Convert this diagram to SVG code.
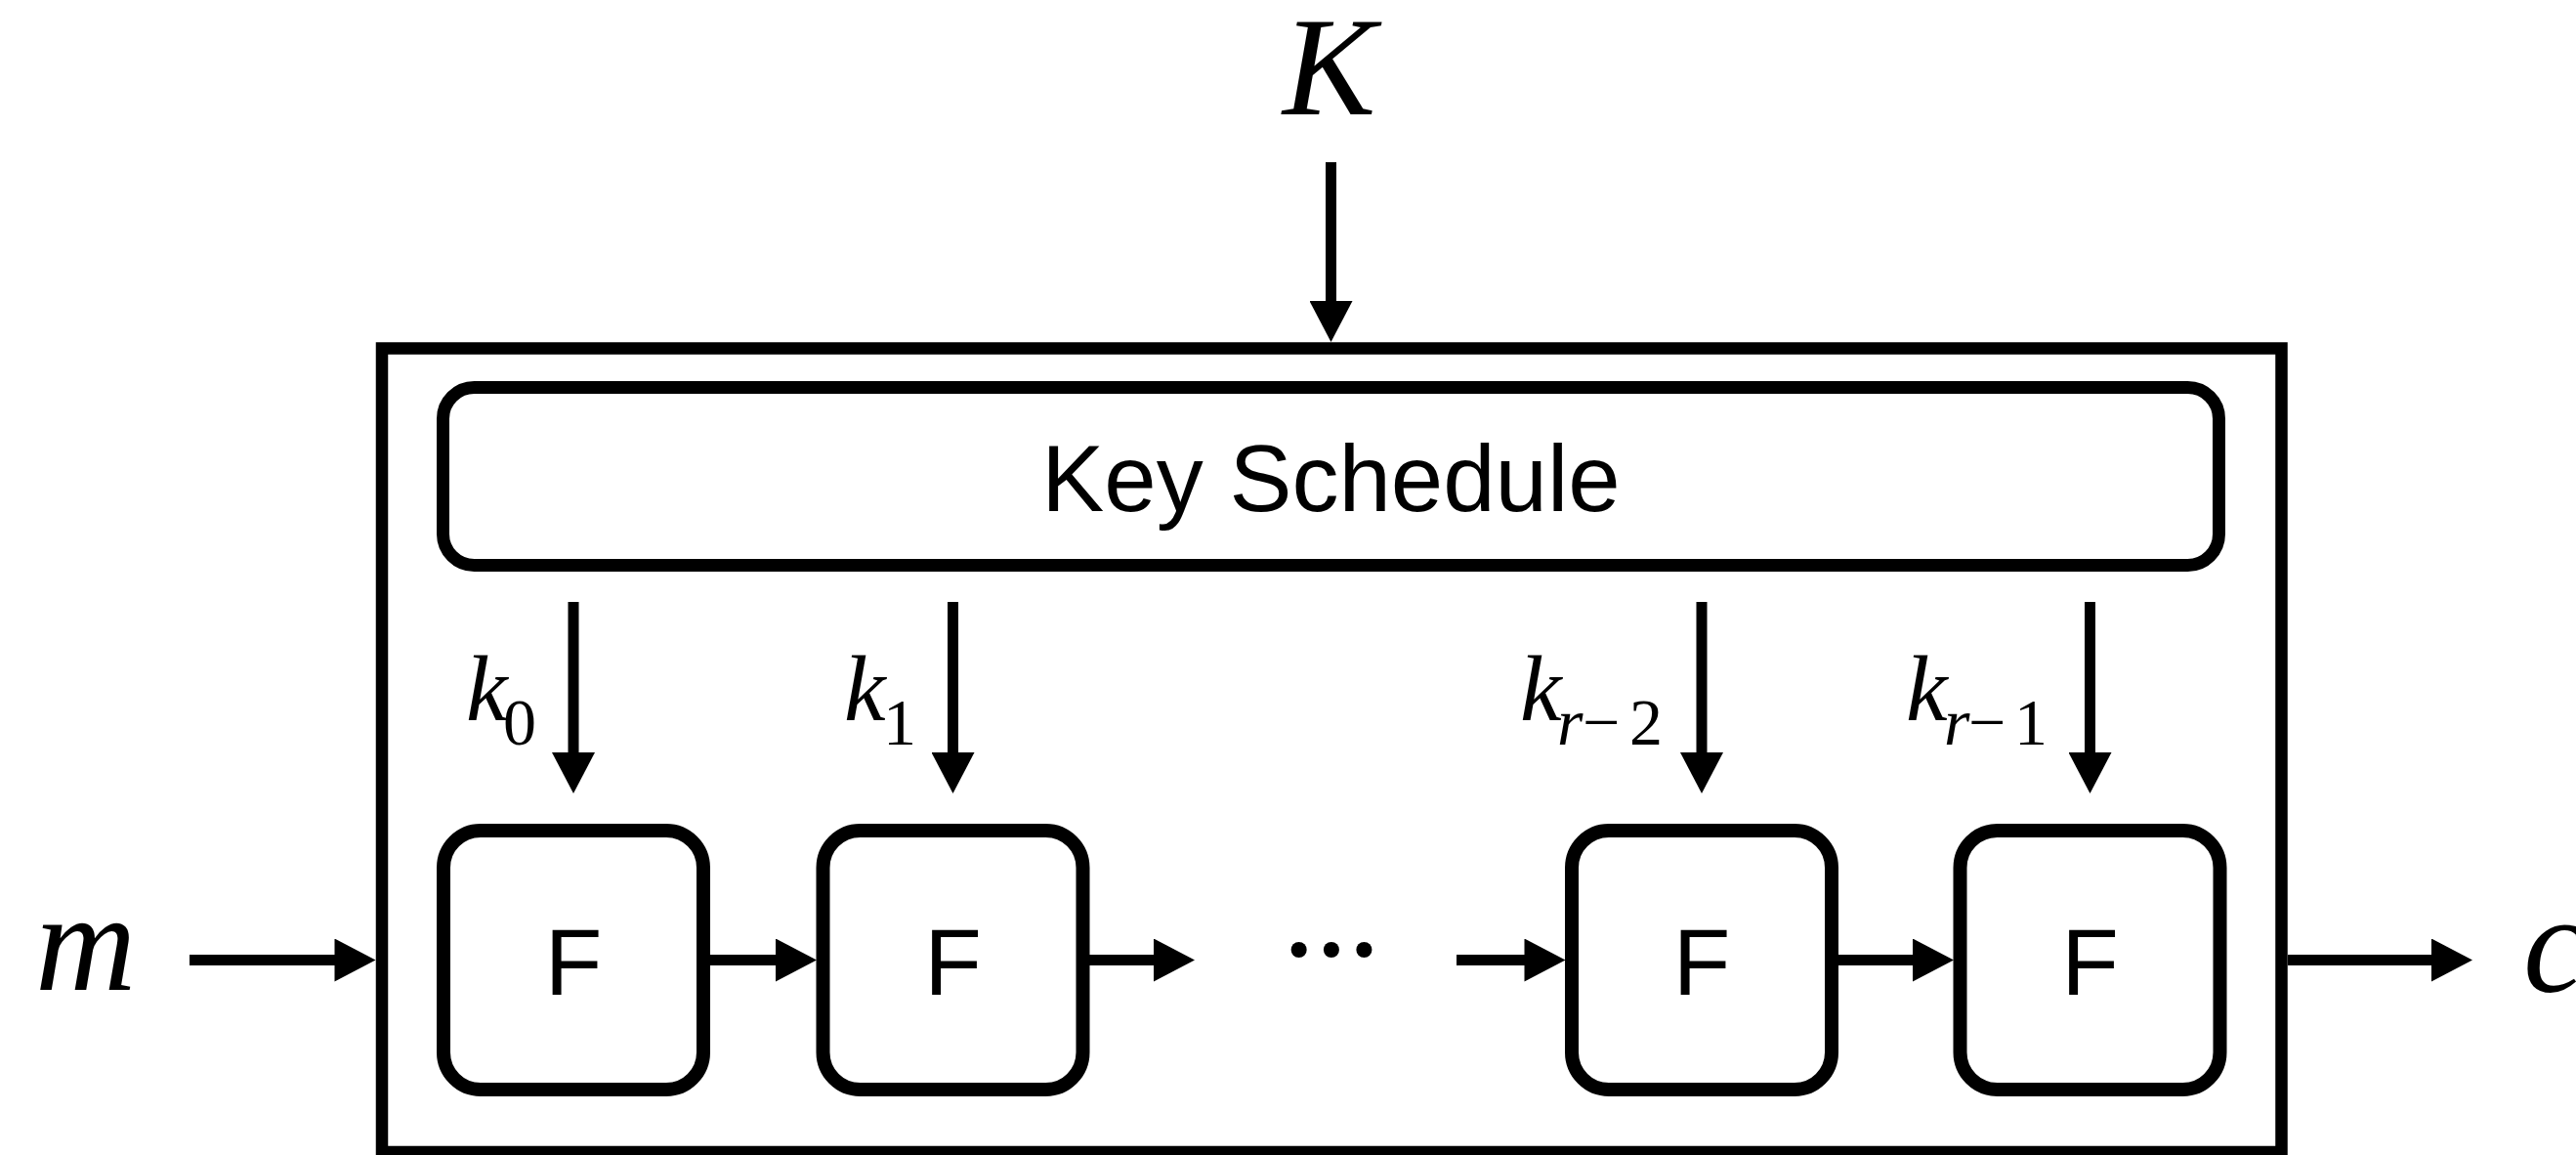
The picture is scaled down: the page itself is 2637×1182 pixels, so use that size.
<svg xmlns="http://www.w3.org/2000/svg" width="2637" height="1182" viewBox="0 0 2637 1182">
  <style>
    .frame { fill: none; stroke: #000; stroke-width: 12.5; }
    .box { fill: #fff; stroke: #000; stroke-width: 14; }
    .sched { fill: #fff; stroke: #000; stroke-width: 13; }
    .label { font-family: "Liberation Sans", Arial, Helvetica, sans-serif; font-size: 96px; fill: #000; text-anchor: middle; }
    .var { font-family: "Liberation Serif", "Times New Roman", serif; font-style: italic; fill: #000; }
    .big { font-size: 143px; }
    .kv { font-size: 96px; }
    .sub { font-size: 68px; }
    .up { font-style: normal; }
    .wire { fill: none; stroke: #000; stroke-width: 11; }
  </style>
  <defs>
    <marker id="head" markerUnits="userSpaceOnUse" markerWidth="44" markerHeight="44" viewBox="0 0 42 44" refX="2" refY="22" orient="auto">
      <path d="M0,0 L42,22 L0,44 Z" fill="#000"/>
    </marker>
  </defs>

  <rect width="2637" height="1182" fill="#fff"/>

  <!-- block cipher boundary -->
  <g id="cipher">
    <rect class="frame" x="391" y="356.5" width="1944.5" height="822.5"/>
  </g>

  <!-- key schedule -->
  <g id="key-schedule">
    <rect class="sched" x="453.5" y="396.5" width="1818" height="182" rx="32"/>
    <text class="label" x="1362.5" y="523">Key Schedule</text>
  </g>

  <!-- round functions -->
  <g id="round-1">
    <rect class="box" x="454" y="850" width="266" height="265" rx="38"/>
    <text class="label" x="587" y="1018">F</text>
  </g>
  <g id="round-2">
    <rect class="box" x="842.5" y="850" width="266" height="265" rx="38"/>
    <text class="label" x="975.5" y="1018">F</text>
  </g>
  <g id="round-r-1">
    <rect class="box" x="1609" y="850" width="266" height="265" rx="38"/>
    <text class="label" x="1742" y="1018">F</text>
  </g>
  <g id="round-r">
    <rect class="box" x="2006.5" y="850" width="266" height="265" rx="38"/>
    <text class="label" x="2139.5" y="1018">F</text>
  </g>

  <!-- inputs, outputs and round keys -->
  <g id="key-input">
    <text class="var big" x="1313" y="117">K</text>
  </g>
  <g id="message">
    <text class="var big" x="36" y="1013" font-size="148">m</text>
  </g>
  <g id="ciphertext">
    <text class="var big" x="2583" y="1015">c</text>
  </g>
  <g id="round-key-0">
    <text class="var"><tspan class="kv" x="477" y="737">k</tspan><tspan class="sub up" x="515" y="762">0</tspan></text>
  </g>
  <g id="round-key-1">
    <text class="var"><tspan class="kv" x="864" y="737">k</tspan><tspan class="sub up" x="904" y="762">1</tspan></text>
  </g>
  <g id="round-key-r-2">
    <text class="var"><tspan class="kv" x="1556" y="737">k</tspan><tspan class="sub" x="1594" y="762">r</tspan><tspan class="sub up" x="1620" y="762">−</tspan><tspan class="sub up" x="1668" y="762">2</tspan></text>
  </g>
  <g id="round-key-r-1">
    <text class="var"><tspan class="kv" x="1951" y="737">k</tspan><tspan class="sub" x="1990" y="762">r</tspan><tspan class="sub up" x="2015" y="762">−</tspan><tspan class="sub up" x="2062" y="762">1</tspan></text>
  </g>
  <g id="ellipsis">
    <text class="var up" x="1357" y="1017" font-size="136" letter-spacing="-12" text-anchor="middle">···</text>
  </g>

  <!-- connectors -->
  <g id="connectors">
    <path class="wire" d="M1362.5,166 V310" marker-end="url(#head)"/>
    <path class="wire" d="M587,616 V772" marker-end="url(#head)"/>
    <path class="wire" d="M975.5,616 V772" marker-end="url(#head)"/>
    <path class="wire" d="M1742,616 V772" marker-end="url(#head)"/>
    <path class="wire" d="M2139.5,616 V772" marker-end="url(#head)"/>
    <path class="wire" d="M194,982.5 H344.5" marker-end="url(#head)"/>
    <path class="wire" d="M727,982.5 H796" marker-end="url(#head)"/>
    <path class="wire" d="M1114,982.5 H1183" marker-end="url(#head)"/>
    <path class="wire" d="M1491,982.5 H1562.5" marker-end="url(#head)"/>
    <path class="wire" d="M1881.5,982.5 H1960" marker-end="url(#head)"/>
    <path class="wire" d="M2342,982.5 H2491" marker-end="url(#head)"/>
  </g>
</svg>
